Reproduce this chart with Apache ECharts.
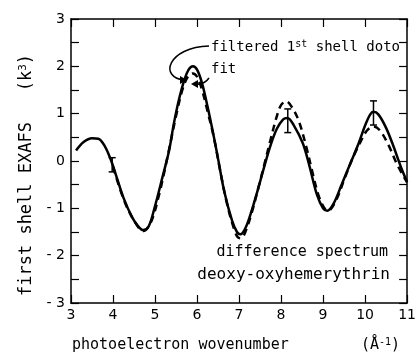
<!DOCTYPE html>
<html><head><meta charset="utf-8">
<script src="https://cdn.jsdelivr.net/npm/echarts@6/dist/echarts.min.js"></script>
<style>html,body{margin:0;padding:0;background:#fff}#c{width:419px;height:359px}</style>
</head><body><div id="c"></div>
<script>
// filtered 1st shell data (solid)
const filteredX = [3.12,3.3,3.5,3.65,3.8,3.95,4.1,4.25,4.45,4.6,4.72,4.85,5.0,5.18,5.33,5.45,5.57,5.7,5.8,5.9,6.0,6.12,6.25,6.38,6.5,6.65,6.83,6.95,7.03,7.15,7.3,7.45,7.6,7.75,7.9,8.05,8.15,8.3,8.52,8.68,8.85,9.0,9.1,9.25,9.45,9.65,9.85,10.0,10.12,10.2,10.32,10.5,10.68,10.85,11.0];
const filteredY = [0.22,0.40,0.48,0.47,0.32,0.02,-0.38,-0.78,-1.18,-1.38,-1.46,-1.38,-0.95,-0.33,0.2,0.8,1.3,1.72,1.93,2.0,1.93,1.64,1.15,0.6,0.05,-0.65,-1.25,-1.5,-1.55,-1.42,-1.05,-0.6,-0.12,0.33,0.68,0.88,0.91,0.76,0.37,-0.12,-0.7,-1.0,-1.05,-0.9,-0.48,-0.05,0.38,0.75,0.98,1.04,0.98,0.7,0.3,-0.12,-0.44];
// fit (dashed)
const fitX = [4.0,4.25,4.5,4.72,4.9,5.1,5.3,5.5,5.65,5.78,5.9,6.0,6.12,6.25,6.4,6.55,6.7,6.85,6.98,7.05,7.15,7.3,7.45,7.6,7.75,7.9,8.0,8.12,8.25,8.42,8.6,8.75,8.9,9.05,9.12,9.3,9.5,9.7,9.9,10.05,10.2,10.35,10.55,10.75,10.9,11.0];
const fitY = [-0.12,-0.8,-1.26,-1.48,-1.3,-0.7,0.1,0.95,1.5,1.78,1.85,1.78,1.5,1.05,0.5,-0.2,-0.85,-1.35,-1.62,-1.63,-1.5,-1.1,-0.6,-0.08,0.45,0.95,1.18,1.26,1.15,0.85,0.3,-0.25,-0.75,-1.02,-1.05,-0.85,-0.4,0.05,0.42,0.65,0.73,0.65,0.35,-0.05,-0.3,-0.45];
// error bars
const errX = [3.98, 8.16, 10.2];
const errLow = [-0.23, 0.6, 0.76];
const errHigh = [0.07, 1.1, 1.27];
// axes
const xMin = 3, xMax = 11, yMin = -3, yMax = 3;

const FONT = '"DejaVu Sans", sans-serif';
const MONO = '"DejaVu Sans Mono", monospace';
const zip = (a, b) => a.map((v, i) => [v, b[i]]);
const chart = echarts.init(document.getElementById('c'), null, {renderer: 'canvas'});
const axisCommon = {
  type: 'value',
  axisLine: {show: true, onZero: false, lineStyle: {color: '#000', width: 1.5}},
  axisTick: {show: true, inside: true, length: 8, lineStyle: {color: '#000', width: 1.2}},
  splitLine: {show: false}
};
const supRich = (fs, pad) => ({sup: {fontSize: fs, fontFamily: MONO, verticalAlign: 'top', padding: [0, 0, pad, 0], fill: '#000', color: '#000'}});
chart.setOption({
  animation: false,
  backgroundColor: '#fff',
  grid: {left: 71, right: 9, top: 19, bottom: 56},
  xAxis: [
    Object.assign({}, axisCommon, {min: xMin, max: xMax, interval: 1, position: 'bottom',
      axisLabel: {color: '#000', fontSize: 14, fontFamily: FONT, margin: 5}}),
    Object.assign({}, axisCommon, {min: xMin, max: xMax, interval: 1, position: 'top',
      axisLabel: {show: false}})
  ],
  yAxis: [
    Object.assign({}, axisCommon, {min: yMin, max: yMax, interval: 1, position: 'left',
      minorTick: {show: true, splitNumber: 2, length: 8, lineStyle: {color: '#000', width: 1.2}},
      axisLabel: {color: '#000', fontSize: 14, fontFamily: FONT, margin: 6,
        formatter: v => v < 0 ? '- ' + Math.abs(v) : String(v)}}),
    Object.assign({}, axisCommon, {min: yMin, max: yMax, interval: 1, position: 'right',
      minorTick: {show: true, splitNumber: 2, length: 8, lineStyle: {color: '#000', width: 1.2}},
      axisLabel: {show: false}})
  ],
  series: [
    {name: 'filtered 1st shell data', type: 'line', data: zip(filteredX, filteredY), smooth: 0.35,
      symbol: 'none', lineStyle: {color: '#000', width: 2.5}},
    {name: 'fit', type: 'line', data: zip(fitX, fitY), smooth: 0.35,
      symbol: 'none', lineStyle: {color: '#000', width: 2.5, type: [7, 5]}},
    {name: 'error', type: 'custom', data: errX.map((x, i) => [x, errLow[i], errHigh[i]]),
      encode: {x: 0, y: [1, 2]},
      renderItem: (params, api) => {
        const x = api.value(0);
        const p1 = api.coord([x, api.value(1)]);
        const p2 = api.coord([x, api.value(2)]);
        const w = 3.5, st = {stroke: '#000', lineWidth: 1.5};
        return {type: 'group', children: [
          {type: 'line', shape: {x1: p1[0], y1: p1[1], x2: p2[0], y2: p2[1]}, style: st},
          {type: 'line', shape: {x1: p1[0] - w, y1: p1[1], x2: p1[0] + w, y2: p1[1]}, style: st},
          {type: 'line', shape: {x1: p2[0] - w, y1: p2[1], x2: p2[0] + w, y2: p2[1]}, style: st}
        ]};
      }}
  ],
  graphic: [
    {type: 'text', x: 211, y: 47, style: {text: 'filtered 1{sup|st} shell doto', fill: '#000',
      font: '14px ' + MONO, verticalAlign: 'middle', rich: supRich(10, 6)}},
    {type: 'text', x: 211, y: 69, style: {text: 'fit', fill: '#000', font: '14px ' + MONO, verticalAlign: 'middle'}},
    {type: 'text', x: 388, y: 252, style: {text: 'difference spectrum', fill: '#000', font: '15px ' + MONO, align: 'right', verticalAlign: 'middle'}},
    {type: 'text', x: 390, y: 275, style: {text: 'deoxy-oxyhemerythrin', fill: '#000', font: '16px ' + MONO, align: 'right', verticalAlign: 'middle'}},
    {type: 'bezierCurve', shape: {x1: 209, y1: 46, x2: 185, y2: 80, cpx1: 168, cpy1: 47, cpx2: 158, cpy2: 78},
      style: {stroke: '#000', lineWidth: 1.5, fill: null}},
    {type: 'polygon', shape: {points: [[187, 80], [180, 76], [180, 84]]}, style: {fill: '#000'}},
    {type: 'bezierCurve', shape: {x1: 209, y1: 78, cpx1: 204, cpy1: 85, x2: 196, y2: 84},
      style: {stroke: '#000', lineWidth: 1.5, fill: null}},
    {type: 'polygon', shape: {points: [[191, 84], [198, 80], [198, 88]]}, style: {fill: '#000'}},
    {type: 'text', x: 27, y: 175, rotation: Math.PI / 2,
      style: {text: 'first shell EXAFS   (k{sup|3})', fill: '#000', font: '17px ' + MONO,
        align: 'center', verticalAlign: 'middle', rich: supRich(11, 7)}},
    {type: 'text', x: 72, y: 345, style: {text: 'photoelectron wovenumber        (Å{sup|-1})', fill: '#000',
      font: '15px ' + MONO, verticalAlign: 'middle', rich: supRich(10, 6)}}
  ]
});
</script></body></html>
